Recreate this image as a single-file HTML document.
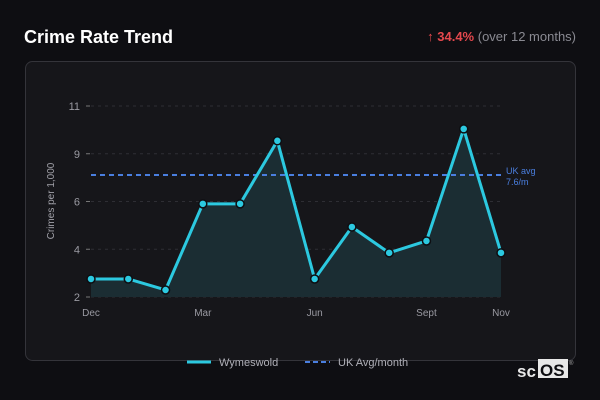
<!DOCTYPE html>
<html><head><meta charset="utf-8"><style>
html,body{margin:0;padding:0;background:#0e0e12;width:600px;height:400px;overflow:hidden;font-family:"Liberation Sans",sans-serif}
</style></head><body>
<svg width="600" height="400" style="position:absolute;left:0;top:0">
<text x="24" y="43" fill="#ffffff" font-size="18" font-weight="bold">Crime Rate Trend</text>
<text x="576" y="41" text-anchor="end" font-size="13"><tspan fill="#e5484d">↑ </tspan><tspan fill="#e5484d" font-weight="bold">34.4%</tspan><tspan fill="#8a8a92"> (over 12 months)</tspan></text>
<rect x="25.5" y="61.5" width="550" height="299" rx="7" fill="#16161a" stroke="#34343a"/>
<g id="grid"></g>
<g id="plot"></g>
<text transform="translate(54,201) rotate(-90)" text-anchor="middle" fill="#a0a0a8" font-size="10">Crimes per 1,000</text>
<g>
<line x1="187" y1="362" x2="211" y2="362" stroke="#2cc9e0" stroke-width="3"/>
<text x="219" y="366" fill="#b0b0b8" font-size="11">Wymeswold</text>
<line x1="305" y1="362" x2="330" y2="362" stroke="#4a7fe0" stroke-width="2" stroke-dasharray="5,3"/>
<text x="338" y="366" fill="#b0b0b8" font-size="11">UK Avg/month</text>
</g>
<g>
<text x="517" y="377" fill="#e8e8e8" font-size="17" font-weight="bold">sc</text>
<rect x="538" y="359" width="30" height="19" fill="#e8e8e8"/>
<text x="540" y="376" fill="#0e0e12" font-size="17" font-weight="bold">OS</text>
<text x="569" y="365" fill="#aaa" font-size="6">®</text>
</g>
</svg>
<script>
const categories=["Dec","Jan","Feb","Mar","Apr","May","Jun","Jul","Aug","Sep","Oct","Nov"];
const values=[2.85,2.85,2.33,6.39,6.39,9.36,2.85,5.3,4.08,4.64,9.92,4.08];
const tickValues=[2,4.25,6.5,8.75,11];
const tickLabels=["2","4","6","9","11"];
const xLabels=["Dec","Mar","Jun","Sept","Nov"];
const xLabelIdx=[0,3,6,9,11];
const ukAvg=7.75;
const ukAvgLabel=["UK avg","7.6/m"];
const NS="http://www.w3.org/2000/svg";
const X0=91,X1=501,Y0=297,Y1=106,YMIN=2,YMAX=11;
const xs=i=>X0+(X1-X0)*i/(categories.length-1);
const ys=v=>Y0-(v-YMIN)/(YMAX-YMIN)*(Y0-Y1);
function mk(t,a,p){const e=document.createElementNS(NS,t);for(const k in a)e.setAttribute(k,a[k]);p.appendChild(e);return e;}
const grid=document.getElementById('grid'),plot=document.getElementById('plot');
tickValues.forEach((v,i)=>{
 const l=mk('line',{x1:X0,x2:X1,y1:ys(v),y2:ys(v),stroke:'#2e2e34','stroke-dasharray':'3,4'},grid);
 
 
 mk('line',{x1:86,x2:90,y1:ys(v),y2:ys(v),stroke:'#777'},grid);
 const t=mk('text',{x:80,y:ys(v)+4,'text-anchor':'end',fill:'#9a9aa2','font-size':11},grid);
 t.textContent=tickLabels[i];
 
 
});
xLabelIdx.forEach((idx,i)=>{
 const t=mk('text',{x:xs(idx),y:316,'text-anchor':'middle',fill:'#9a9aa2','font-size':10},grid);
 t.textContent=xLabels[i];
 
 
});
let pts=values.map((v,i)=>xs(i)+','+ys(v)).join(' ');
const area=mk('polygon',{points:xs(0)+','+Y0+' '+pts+' '+xs(values.length-1)+','+Y0,fill:'#1b2d33'},plot);


const avg=mk('line',{x1:X0,x2:X1,y1:ys(ukAvg),y2:ys(ukAvg),stroke:'#4a7fe0','stroke-width':2,'stroke-dasharray':'5,4'},plot);


ukAvgLabel.forEach((s,i)=>{
 const t=mk('text',{x:506,y:ys(ukAvg)-1+i*11,fill:'#4a7fe0','font-size':9},plot);
 t.textContent=s;
 
 
});
const line=mk('polyline',{points:pts,fill:'none',stroke:'#2cc9e0','stroke-width':3,'stroke-linejoin':'round'},plot);


values.forEach((v,i)=>{
 const c=mk('circle',{cx:xs(i),cy:ys(v),r:4,fill:'#2cc9e0',stroke:'#0e0e12','stroke-width':1.5},plot);
 
 
});
</script>
</body></html>
